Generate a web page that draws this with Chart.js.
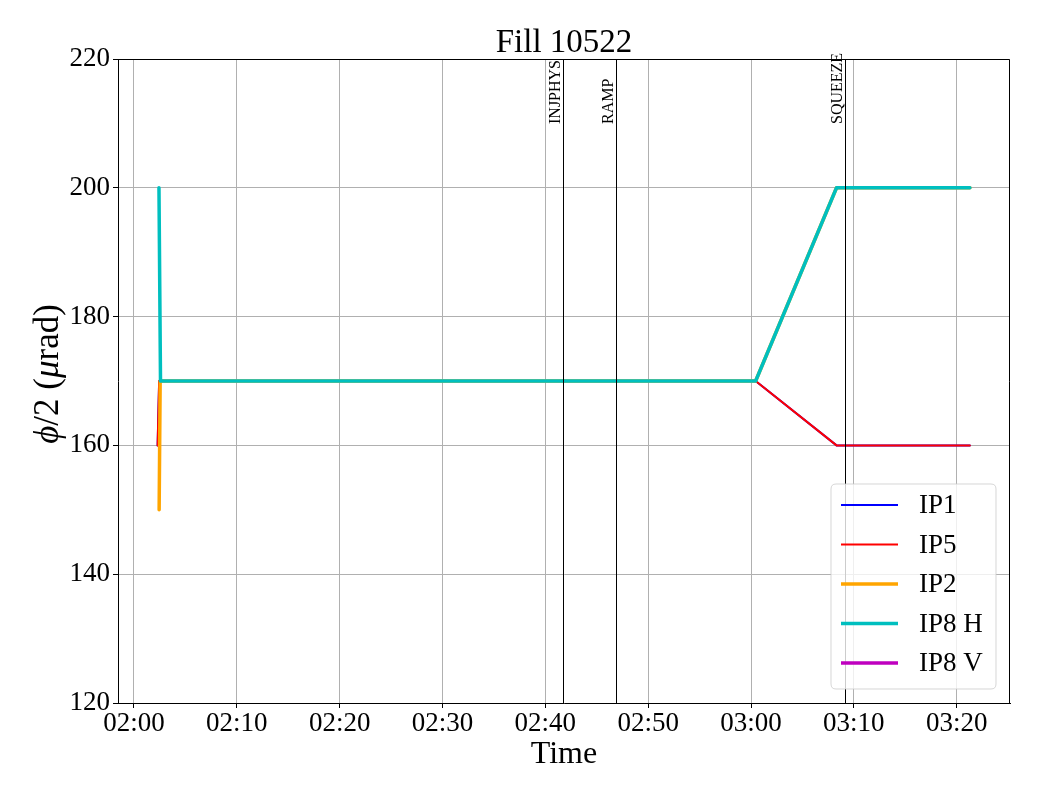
<!DOCTYPE html>
<html><head><meta charset="utf-8">
<script src="https://cdn.jsdelivr.net/npm/chart.js@4"></script>
<style>html,body{margin:0;padding:0;background:#fff}#c{display:block}</style>
</head><body>
<canvas id="c" width="1040" height="800"></canvas>
<script>
const FONT = '"Liberation Serif", "Times New Roman", serif';
const titleText = 'Fill 10522';
const xAxisTitle = 'Time';
const xTickLabels = ['02:00','02:10','02:20','02:30','02:40','02:50','03:00','03:10','03:20'];
const yTicks = [120, 140, 160, 180, 200, 220];
const xMinTime = '01:58:27';
const xMaxTime = '03:25:11';

const ip1Times = ['02:02:18','02:02:27','03:00:27','03:08:19','03:21:17'];
const ip1Values = [160, 170, 170, 160, 160];
const ip5Times = ['02:02:18','02:02:27','03:00:27','03:08:19','03:21:17'];
const ip5Values = [160, 170, 170, 160, 160];
const ip2Times = ['02:02:27','02:02:33','03:00:27','03:08:19','03:21:17'];
const ip2Values = [150, 170, 170, 200, 200];
const ip8hTimes = ['02:02:26','02:02:35','03:00:27','03:08:19','03:21:17'];
const ip8hValues = [200, 170, 170, 200, 200];
const ip8vTimes = [];
const ip8vValues = [];

const eventNames = ['INJPHYS', 'RAMP', 'SQUEEZE'];
const eventTimes = ['02:41:46', '02:46:52', '03:09:08'];

function toMin(t) {
  const p = t.split(':').map(Number);
  return (p[0] - 2) * 60 + p[1] + (p[2] || 0) / 60;
}
function pts(times, vals) { return times.map((t, i) => ({x: toMin(t), y: vals[i]})); }
const xTickValues = xTickLabels.map(l => toMin(l));

const series = [
  {label: 'IP1', times: ip1Times, vals: ip1Values, color: '#0000ff', width: 2, order: 5},
  {label: 'IP5', times: ip5Times, vals: ip5Values, color: '#ff0000', width: 2, order: 4},
  {label: 'IP2', times: ip2Times, vals: ip2Values, color: '#ffa500', width: 3.5, order: 3},
  {label: 'IP8 H', times: ip8hTimes, vals: ip8hValues, color: '#00bfbf', width: 3.5, order: 2},
  {label: 'IP8 V', times: ip8vTimes, vals: ip8vValues, color: '#bf00bf', width: 3.5, order: 1},
];

const overlay = {
  id: 'overlay',
  afterDraw(chart) {
    const ctx = chart.ctx, a = chart.chartArea, xs = chart.scales.x;
    ctx.save();
    // frame top/right
    ctx.strokeStyle = '#000'; ctx.lineWidth = 1;
    ctx.beginPath();
    ctx.moveTo(Math.round(a.left) + 0.5, Math.round(a.top) + 0.5);
    ctx.lineTo(Math.round(a.right) - 0.5, Math.round(a.top) + 0.5);
    ctx.lineTo(Math.round(a.right) - 0.5, Math.round(a.bottom));
    ctx.stroke();
    // event lines
    eventNames.forEach((name, i) => {
      const x = Math.round(xs.getPixelForValue(toMin(eventTimes[i]))) + 0.5;
      ctx.strokeStyle = '#000'; ctx.lineWidth = 1;
      ctx.beginPath(); ctx.moveTo(x, a.top); ctx.lineTo(x, a.bottom); ctx.stroke();
      ctx.save();
      ctx.translate(x - 3.5, 124);
      ctx.rotate(-Math.PI / 2);
      ctx.fillStyle = '#000';
      ctx.font = '16px ' + FONT;
      ctx.textAlign = 'left'; ctx.textBaseline = 'alphabetic';
      ctx.fillText(name, 0, 0);
      ctx.restore();
    });
    // title
    ctx.fillStyle = '#000';
    ctx.textAlign = 'center'; ctx.textBaseline = 'alphabetic';
    ctx.font = '33px ' + FONT;
    ctx.fillText(titleText, (a.left + a.right) / 2, 52);
    ctx.font = '32px ' + FONT;
    ctx.fillText(xAxisTitle, (a.left + a.right) / 2, 763);
    // y title with italic parts
    const parts = [['ϕ', true], ['/2 (', false], ['μ', true], ['rad)', false]];
    const fs = 35;
    let total = 0;
    parts.forEach(p => { ctx.font = (p[1] ? 'italic ' : '') + fs + 'px ' + FONT; total += ctx.measureText(p[0]).width; });
    ctx.save();
    ctx.translate(58, (a.top + a.bottom) / 2 - 7);
    ctx.rotate(-Math.PI / 2);
    ctx.textAlign = 'left';
    let cx = -total / 2;
    parts.forEach(p => { ctx.font = (p[1] ? 'italic ' : '') + fs + 'px ' + FONT; ctx.fillText(p[0], cx, 0); cx += ctx.measureText(p[0]).width; });
    ctx.restore();
    // legend
    const lx = 831, ly = 484, lw = 165, lh = 205, r = 5;
    ctx.beginPath();
    ctx.moveTo(lx + r, ly); ctx.lineTo(lx + lw - r, ly); ctx.quadraticCurveTo(lx + lw, ly, lx + lw, ly + r);
    ctx.lineTo(lx + lw, ly + lh - r); ctx.quadraticCurveTo(lx + lw, ly + lh, lx + lw - r, ly + lh);
    ctx.lineTo(lx + r, ly + lh); ctx.quadraticCurveTo(lx, ly + lh, lx, ly + lh - r);
    ctx.lineTo(lx, ly + r); ctx.quadraticCurveTo(lx, ly, lx + r, ly);
    ctx.closePath();
    ctx.fillStyle = 'rgba(255,255,255,0.8)'; ctx.fill();
    ctx.strokeStyle = 'rgba(204,204,204,0.8)'; ctx.lineWidth = 1; ctx.stroke();
    ctx.font = '27px ' + FONT; ctx.textAlign = 'left'; ctx.textBaseline = 'middle';
    series.forEach((s, i) => {
      const y = 505 + i * 39.5;
      ctx.strokeStyle = s.color; ctx.lineWidth = s.width;
      ctx.beginPath(); ctx.moveTo(841, y); ctx.lineTo(898, y); ctx.stroke();
      ctx.fillStyle = '#000';
      ctx.fillText(s.label, 919, y + 1);
    });
    ctx.restore();
  }
};

new Chart(document.getElementById('c'), {
  type: 'line',
  data: {
    datasets: series.map(s => ({
      label: s.label, data: pts(s.times, s.vals), borderColor: s.color, backgroundColor: s.color,
      borderWidth: s.width, pointRadius: 0, tension: 0, fill: false, order: s.order,
      borderJoinStyle: 'round', borderCapStyle: 'round'
    }))
  },
  options: {
    responsive: false, animation: false,
    layout: {padding: {top: 59, right: 30, left: 0, bottom: 0}},
    plugins: {legend: {display: false}, title: {display: false}, tooltip: {enabled: false}},
    scales: {
      x: {
        type: 'linear', min: toMin(xMinTime), max: toMin(xMaxTime),
        afterBuildTicks: s => { s.ticks = xTickValues.map(v => ({value: v})); },
        ticks: {
          callback: v => { const i = xTickValues.findIndex(t => Math.abs(t - v) < 1e-6); return i >= 0 ? xTickLabels[i] : ''; },
          font: {family: FONT, size: 27}, color: '#000', padding: 0, maxRotation: 0, autoSkip: false
        },
        grid: {color: '#b0b0b0', lineWidth: 1, tickLength: 5, tickColor: '#000'},
        border: {color: '#000', width: 1},
        afterFit: s => { s.height = 97; }
      },
      y: {
        min: yTicks[0], max: yTicks[yTicks.length - 1],
        afterBuildTicks: s => { s.ticks = yTicks.map(v => ({value: v})); },
        ticks: {font: {family: FONT, size: 27}, color: '#000', padding: 3},
        grid: {color: '#b0b0b0', lineWidth: 1, tickLength: 5, tickColor: '#000'},
        border: {color: '#000', width: 1},
        afterFit: s => { s.width = 118; }
      }
    }
  },
  plugins: [overlay]
});
</script>
</body></html>
